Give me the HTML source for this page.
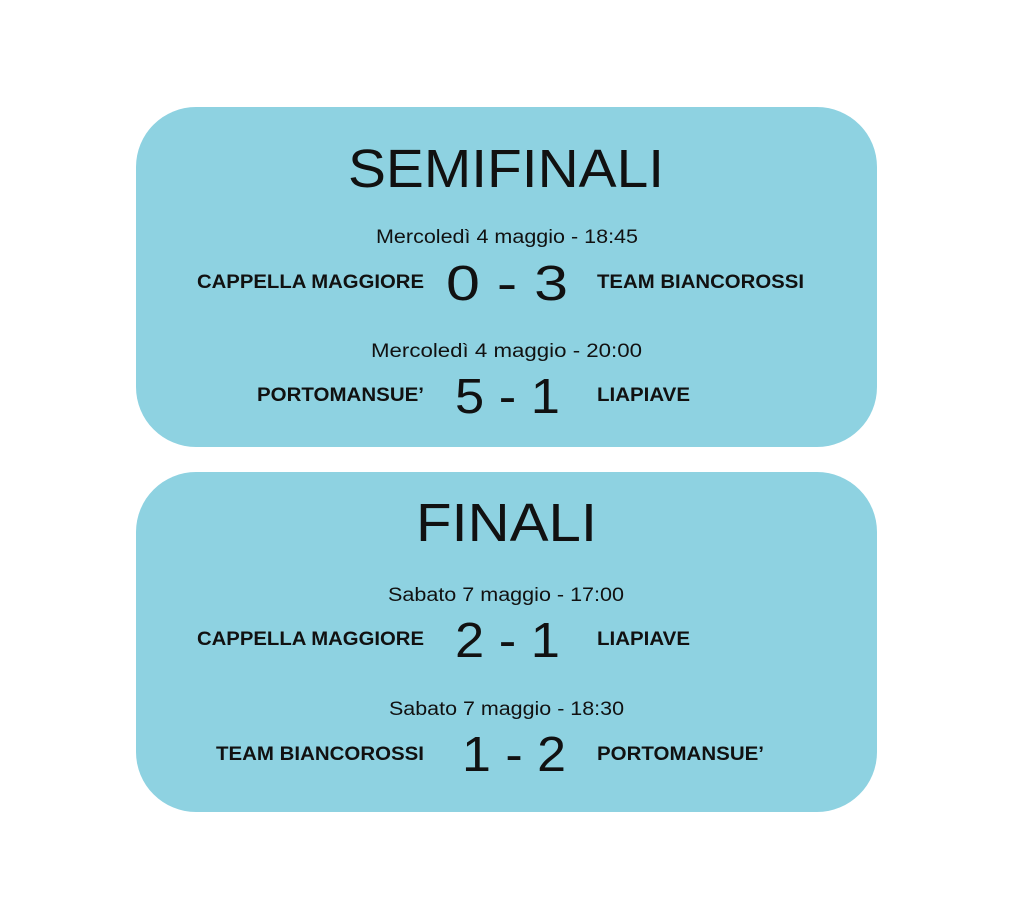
<!DOCTYPE html>
<html><head><meta charset="utf-8"><style>html,body{margin:0;padding:0;background:#fff}</style></head>
<body>
<svg width="1024" height="904" viewBox="0 0 1024 904" xmlns="http://www.w3.org/2000/svg" font-family="Liberation Sans, sans-serif" fill="#111">
<rect x="0" y="0" width="1024" height="904" fill="#fff"/>
<rect x="136" y="107" width="741" height="340" rx="60" fill="#8ed2e1"/>
<rect x="136" y="472" width="741" height="340" rx="60" fill="#8ed2e1"/>
<g lengthAdjust="spacingAndGlyphs">
<text x="348" y="187" font-size="54" textLength="316" lengthAdjust="spacingAndGlyphs">SEMIFINALI</text>
<text x="376" y="243" font-size="19" textLength="262" lengthAdjust="spacingAndGlyphs">Mercoledì 4 maggio - 18:45</text>
<text x="197" y="288" font-size="19" font-weight="bold" textLength="227" lengthAdjust="spacingAndGlyphs">CAPPELLA MAGGIORE</text>
<text x="446" y="300" font-size="49" textLength="122" lengthAdjust="spacingAndGlyphs">0 - 3</text>
<text x="597" y="288" font-size="19" font-weight="bold" textLength="207" lengthAdjust="spacingAndGlyphs">TEAM BIANCOROSSI</text>
<text x="371" y="357" font-size="19" textLength="271" lengthAdjust="spacingAndGlyphs">Mercoledì 4 maggio - 20:00</text>
<text x="257" y="401" font-size="19" font-weight="bold" textLength="167" lengthAdjust="spacingAndGlyphs">PORTOMANSUE’</text>
<text x="455" y="413" font-size="49" textLength="105" lengthAdjust="spacingAndGlyphs">5 - 1</text>
<text x="597" y="401" font-size="19" font-weight="bold" textLength="93" lengthAdjust="spacingAndGlyphs">LIAPIAVE</text>

<text x="416" y="541" font-size="54" textLength="181" lengthAdjust="spacingAndGlyphs">FINALI</text>
<text x="388" y="601" font-size="19" textLength="236" lengthAdjust="spacingAndGlyphs">Sabato 7 maggio - 17:00</text>
<text x="197" y="645" font-size="19" font-weight="bold" textLength="227" lengthAdjust="spacingAndGlyphs">CAPPELLA MAGGIORE</text>
<text x="455" y="657" font-size="49" textLength="105" lengthAdjust="spacingAndGlyphs">2 - 1</text>
<text x="597" y="645" font-size="19" font-weight="bold" textLength="93" lengthAdjust="spacingAndGlyphs">LIAPIAVE</text>
<text x="389" y="715" font-size="19" textLength="235" lengthAdjust="spacingAndGlyphs">Sabato 7 maggio - 18:30</text>
<text x="216" y="760" font-size="19" font-weight="bold" textLength="208" lengthAdjust="spacingAndGlyphs">TEAM BIANCOROSSI</text>
<text x="462" y="771" font-size="49" textLength="104" lengthAdjust="spacingAndGlyphs">1 - 2</text>
<text x="597" y="760" font-size="19" font-weight="bold" textLength="167" lengthAdjust="spacingAndGlyphs">PORTOMANSUE’</text>
</g>
</svg>
</body></html>
